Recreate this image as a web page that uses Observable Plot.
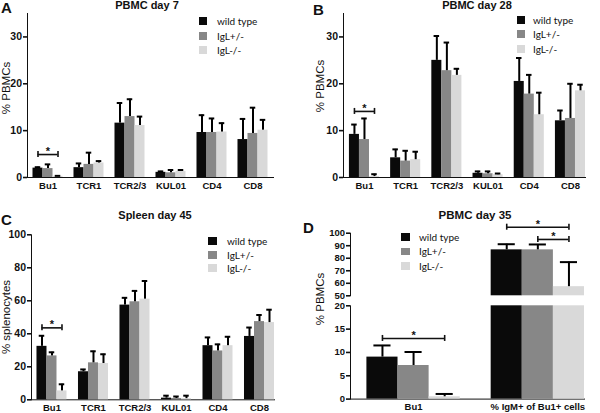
<!DOCTYPE html>
<html><head><meta charset="utf-8">
<script src="https://cdn.jsdelivr.net/npm/d3@7"></script>
<script src="https://cdn.jsdelivr.net/npm/@observablehq/plot@0.6"></script>
<style>
body{margin:0;background:#fff;}
#fig{position:relative;width:600px;height:413px;overflow:hidden;background:#fff;font-family:"Liberation Sans",Arial,sans-serif;}
#fig svg{position:absolute;}
#fig g[aria-label^="y-axis"] text{font-size:10.5px;}
#fig svg.dpanel g[aria-label^="y-axis"] text{font-size:9.5px;}
#fig g[aria-label^="x-axis"] text{font-size:9.5px;}
#fig g[aria-label^="y-axis"] path,#fig g[aria-label^="y-axis"] line,#fig g[aria-label^="x-axis"] path,#fig g[aria-label^="x-axis"] line{stroke-width:1.6px;}
.t{position:absolute;white-space:nowrap;line-height:1;color:#111;}
.sq{position:absolute;}
</style></head>
<body><div id="fig"></div>
<script>
// ---------- data ----------
const categories = ["Bu1", "TCR1", "TCR2/3", "KUL01", "CD4", "CD8"];
const categoriesD = ["Bu1", "% IgM+ of Bu1+ cells"];
const genotypes = ["wild type", "IgL+/-", "IgL-/-"];
const genotypeColors = ["#0a0a0a", "#878787", "#d9d9d9"];

// Panel A: PBMC day 7 (% PBMCs), mean and upper error
const aWildType    = [2.0, 2.1, 11.6, 1.1, 9.6, 8.1];
const aWildTypeErr = [0.2, 0.9, 4.3, 0.2, 3.7, 4.4];
const aHet         = [1.9, 2.8, 13.0, 1.0, 9.6, 9.4];
const aHetErr      = [0.9, 2.5, 3.7, 0.6, 3.0, 5.5];
const aKo          = [0.25, 3.1, 11.1, 1.3, 9.7, 10.1];
const aKoErr       = [0.1, 0.4, 1.9, 0.3, 1.9, 2.2];

// Panel B: PBMC day 28
const bWildType    = [9.2, 4.2, 25.0, 0.9, 20.5, 12.1];
const bWildTypeErr = [2.1, 1.8, 5.2, 0.4, 5.0, 2.2];
const bHet         = [8.1, 3.5, 22.8, 0.8, 17.8, 12.6];
const bHetErr      = [4.5, 2.2, 6.0, 0.5, 4.1, 7.4];
const bKo          = [0.2, 3.8, 21.8, 0.6, 13.4, 18.5];
const bKoErr       = [0.5, 1.7, 1.4, 0.25, 4.7, 1.3];

// Panel C: Spleen day 45 (% splenocytes)
const cWildType    = [32.4, 17.0, 57.4, 1.0, 32.8, 38.4];
const cWildTypeErr = [6.4, 1.4, 4.4, 1.5, 5.0, 5.4];
const cHet         = [26.6, 22.4, 59.4, 0.8, 29.6, 47.4];
const cHetErr      = [2.2, 7.0, 6.6, 1.2, 4.0, 4.0];
const cKo          = [5.4, 22.0, 61.0, 0.7, 32.8, 46.8];
const cKoErr       = [4.0, 5.6, 11.0, 1.8, 5.4, 7.8];

// Panel D: PBMC day 35 (% PBMCs), broken axis
const dWildType    = [9.0, 86.7];
const dWildTypeErr = [2.5, 4.5];
const dHet         = [7.2, 86.7];
const dHetErr      = [2.9, 4.3];
const dKo          = [0.5, 57.3];
const dKoErr       = [0.6, 19.6];

const ticksAB = [0, 10, 20, 30];
const ticksC = [0, 20, 40, 60, 80, 100];
const ticksDLow = [0, 5, 10, 15, 20];
const ticksDHigh = [50, 60, 70, 80, 90, 100];

// significance brackets: category, from genotype index, to genotype index, height
const sigA = [{cat: "Bu1", from: 0, to: 2, y: 4.9}];
const sigB = [{cat: "Bu1", from: 0, to: 2, y: 14.1}];
const sigC = [{cat: "Bu1", from: 0, to: 2, y: 43.6}];
const sigDLow = [{cat: "Bu1", from: 0, to: 2, y: 13.0}];
const sigDHigh = [{cat: "% IgM+ of Bu1+ cells", from: 0, to: 2, y: 104.8},
                  {cat: "% IgM+ of Bu1+ cells", from: 1, to: 2, y: 95.0}];

// ---------- helpers ----------
function rowsOf(cats, means, errs) {
  const rows = [];
  means.forEach((m, gi) => cats.forEach((c, ci) => rows.push({cat: c, gi, mean: m[ci], top: m[ci] + errs[gi][ci]})));
  return rows;
}
const fig = document.getElementById("fig");

function panel(cfg) {
  const {cats, rows, yDomain, yTicks, width, height, ml, mr, mt, mb, pi, po, align,
         brackets = [], showX = true, base = 0, left, top, xPad = 5, cls} = cfg;
  const bw = d3.scaleBand().domain(cats).range([ml, width - mr]).paddingInner(pi).paddingOuter(po).align(align).bandwidth();
  const barW = bw / 3, capW = barW * 0.55;
  const marks = [];
  genotypes.forEach((g, gi) => {
    const rs = rows.filter(r => r.gi === gi && r.mean > base);
    marks.push(Plot.barY(rs, {x: "cat", y1: () => base, y2: r => Math.min(r.mean, yDomain[1]),
      fill: genotypeColors[gi], insetLeft: gi * barW, insetRight: (2 - gi) * barW}));
  });
  genotypes.forEach((g, gi) => {
    const es = rows.filter(r => r.gi === gi && r.mean > base && r.top <= yDomain[1] + 1e-9);
    const dx = (gi - 1) * barW;
    marks.push(Plot.ruleX(es, {x: "cat", y1: "mean", y2: "top", dx, stroke: "#000", strokeWidth: 2}));
    marks.push(Plot.tickY(es, {x: "cat", y: "top", dx, insetLeft: (bw - capW) / 2, insetRight: (bw - capW) / 2, stroke: "#000", strokeWidth: 2}));
  });
  brackets.forEach(b => {
    const o1 = (b.from + 0.5) * barW, o2 = (b.to + 0.5) * barW;
    marks.push(Plot.ruleY([b], {x1: "cat", x2: "cat", y: "y", insetLeft: o1, insetRight: bw - o2, stroke: "#111", strokeWidth: 1.6}));
    marks.push(Plot.ruleX([b], {x: "cat", y1: "y", y2: "y", dx: o1 - bw / 2, insetTop: -3, insetBottom: -3, stroke: "#111", strokeWidth: 1.6}));
    marks.push(Plot.ruleX([b], {x: "cat", y1: "y", y2: "y", dx: o2 - bw / 2, insetTop: -3, insetBottom: -3, stroke: "#111", strokeWidth: 1.6}));
    marks.push(Plot.text([b], {x: "cat", y: "y", text: () => "*", dx: (o1 + o2) / 2 - bw / 2, dy: -3, fontSize: 11, fontWeight: "bold", fill: "#111"}));
  });
  const xOpts = {domain: cats, paddingInner: pi, paddingOuter: po, align, round: false, label: null};
  const svg = Plot.plot({
    width, height, marginLeft: ml, marginRight: mr, marginTop: mt, marginBottom: mb,
    style: {fontFamily: "Liberation Sans, Arial, sans-serif", fontSize: "10px", fontWeight: "bold",
            background: "transparent", overflow: "visible", color: "#111"},
    x: showX ? {...xOpts, tickSize: 0, tickPadding: xPad, line: true} : {...xOpts, axis: null},
    y: {domain: yDomain, ticks: yTicks, tickSize: 4, tickPadding: 1.5, line: true, label: null},
    marks
  });
  if (cls) svg.classList.add(cls);
  svg.style.left = left + "px";
  svg.style.top = top + "px";
  fig.appendChild(svg);
}

function txt(str, x, baseline, size, weight, anchor, family) {
  const d = document.createElement("div");
  d.className = "t";
  d.textContent = str;
  d.style.fontSize = size + "px";
  d.style.fontWeight = weight;
  if (family) d.style.fontFamily = family;
  d.style.left = x + "px";
  d.style.top = (baseline - 0.85 * size) + "px";
  if (anchor === "middle") d.style.transform = "translateX(-50%)";
  fig.appendChild(d);
}
function vtxt(str, cx, cy, size) {
  const d = document.createElement("div");
  d.className = "t";
  d.textContent = str;
  d.style.fontSize = size + "px";
  d.style.left = cx + "px";
  d.style.top = cy + "px";
  d.style.transform = "translate(-50%,-50%) rotate(-90deg)";
  fig.appendChild(d);
}
function legend(x, y0, step, w, h, tx) {
  genotypes.forEach((g, i) => {
    const s = document.createElement("div");
    s.className = "sq";
    s.style.left = x + "px"; s.style.top = (y0 + i * step) + "px";
    s.style.width = w + "px"; s.style.height = h + "px";
    s.style.background = genotypeColors[i];
    fig.appendChild(s);
    txt(g, tx, y0 + i * step + h - 0.5, 10, "normal", "start", "Lato, 'Open Sans', sans-serif");
  });
}

// ---------- panels ----------
panel({cats: categories, rows: rowsOf(categories, [aWildType, aHet, aKo], [aWildTypeErr, aHetErr, aKoErr]),
  yDomain: [0, 35], yTicks: ticksAB, left: 0, top: 0, width: 300, height: 200,
  ml: 27, mr: 27, mt: 13, mb: 23, pi: 0.268, po: 0.134, align: 0.5, brackets: sigA});
panel({cats: categories, rows: rowsOf(categories, [bWildType, bHet, bKo], [bWildTypeErr, bHetErr, bKoErr]),
  yDomain: [0, 35], yTicks: ticksAB, left: 300, top: 0, width: 300, height: 200,
  ml: 43, mr: 15, mt: 13, mb: 23, pi: 0.27, po: 0.072, align: 1, brackets: sigB});
panel({cats: categories, rows: rowsOf(categories, [cWildType, cHet, cKo], [cWildTypeErr, cHetErr, cKoErr]),
  yDomain: [0, 100], yTicks: ticksC, left: 0, top: 200, width: 300, height: 213,
  ml: 31, mr: 26, mt: 34.3, mb: 13.7, pi: 0.277, po: 0.066, align: 1, brackets: sigC, xPad: 4});
const rowsD = rowsOf(categoriesD, [dWildType, dHet, dKo], [dWildTypeErr, dHetErr, dKoErr]);
panel({cats: categoriesD, rows: rowsD, yDomain: [50, 100], yTicks: ticksDHigh, left: 300, top: 200, width: 300, height: 100,
  ml: 50, mr: 16, mt: 32.7, mb: 4.7, pi: 0.249, po: 0.066, align: 1, brackets: sigDHigh, showX: false, base: 50, cls: "dpanel"});
panel({cats: categoriesD, rows: rowsD, yDomain: [0, 20], yTicks: ticksDLow, left: 300, top: 300, width: 300, height: 113,
  ml: 50, mr: 16, mt: 5.3, mb: 14.4, pi: 0.249, po: 0.066, align: 1, brackets: sigDLow, xPad: 4, cls: "dpanel"});

// ---------- titles, labels, legends ----------
txt("A", 1, 12.5, 15, "bold");
txt("B", 313, 15, 15, "bold");
txt("C", 1, 225, 15, "bold");
txt("D", 303, 233, 15, "bold");
txt("PBMC day 7", 147, 9, 11, "bold", "middle");
txt("PBMC day 28", 477, 9, 11, "bold", "middle");
txt("Spleen day 45", 155, 219, 11, "bold", "middle");
txt("PBMC day 35", 475, 219.5, 11.5, "bold", "middle");
vtxt("% PBMCs", 6.5, 88, 11.5);
vtxt("% PBMCs", 320.5, 86, 11.5);
vtxt("% splenocytes", 6.5, 317, 11.5);
vtxt("% PBMCs", 320.5, 298.5, 11.5);
legend(199, 17.3, 14.4, 8, 8, 217);
legend(517, 15.5, 14.6, 8, 8, 533);
legend(208, 237.3, 13.4, 8.5, 8, 227);
legend(401, 233.3, 14.5, 9, 7.5, 419);
</script></body></html>
